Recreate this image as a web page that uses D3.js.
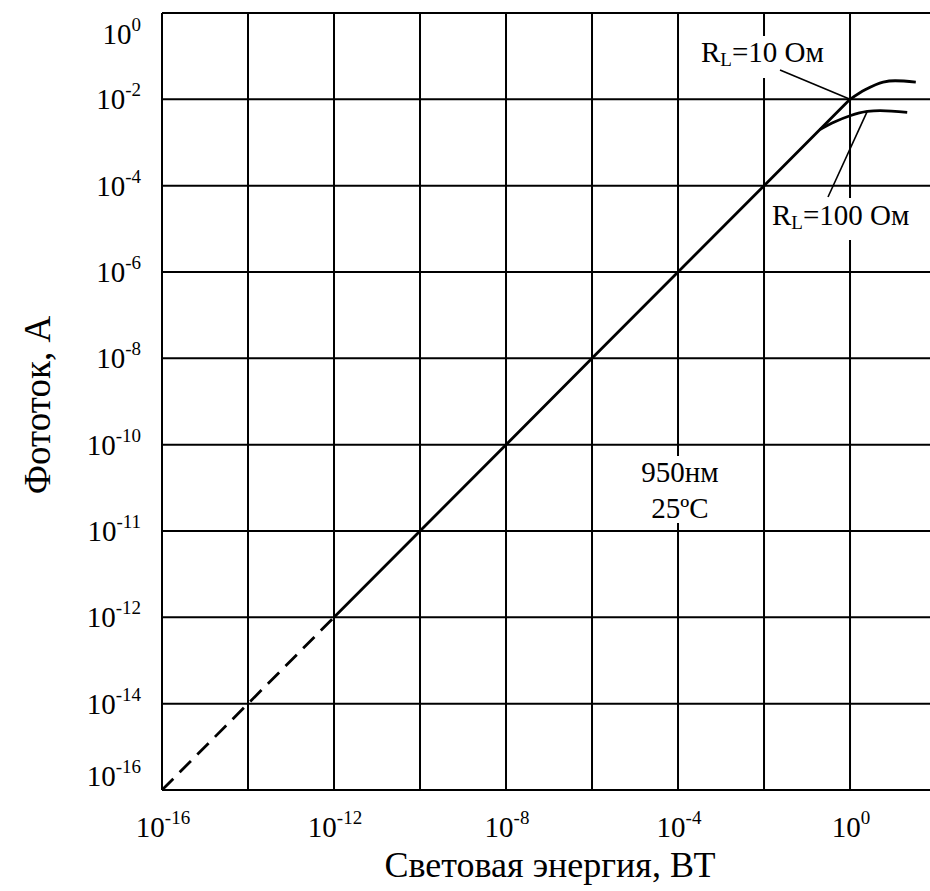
<!DOCTYPE html>
<html>
<head>
<meta charset="utf-8">
<script src="https://cdn.jsdelivr.net/npm/d3@7/dist/d3.min.js"></script>
<style>
  html, body { margin: 0; padding: 0; background: #fff; }
  svg { display: block; }
  text { font-family: "Liberation Serif", "Times New Roman", serif; fill: #000; }
</style>
</head>
<body>
<svg id="chart" width="930" height="891"></svg>
<script>
// ---- data ----
// x: exponent of light energy (W), y: position index of current tick labels (bottom = 0)
const xTickExp = [-16, -12, -8, -4, 0];
const xGridExp = [-16, -14, -12, -10, -8, -6, -4, -2, 0];
const yTickLabels = ["-16", "-14", "-12", "-11", "-10", "-8", "-6", "-4", "-2", "0"];

const mainX = [-16, -14, -12, -10, -8, -6, -4, -2, 0];
const mainY = [0, 1, 2, 3, 4, 5, 6, 7, 8];
const dashedCount = 3; // first points drawn dashed

const rl10X = [0, 0.35, 0.77, 1.05, 1.53];
const rl10Y = [8.0, 8.11, 8.20, 8.215, 8.20];

const rl100X = [-0.70, -0.35, 0, 0.40, 0.70, 1.33];
const rl100Y = [7.65, 7.74, 7.81, 7.86, 7.87, 7.85];

const xTitle = "Световая энергия, ВТ";
const yTitle = "Фототок, А";

// ---- layout ----
const svg = d3.select("#chart");
const pL = 162, pT = 13, pB = 790, pR = 930;
const x = d3.scaleLinear().domain([-16, 1.86]).range([pL, pR]);
const y = d3.scaleLinear().domain([0, 9]).range([pB, pT]);
const FS = 29, SUP = 19;

const g = svg.append("g");

// grid
g.selectAll("line.vg").data(xGridExp).join("line")
  .attr("x1", d => x(d)).attr("x2", d => x(d))
  .attr("y1", pT).attr("y2", pB)
  .attr("stroke", "#000").attr("stroke-width", 2);
g.selectAll("line.hg").data(d3.range(yTickLabels.length)).join("line")
  .attr("x1", pL).attr("x2", pR)
  .attr("y1", d => y(d)).attr("y2", d => y(d))
  .attr("stroke", "#000").attr("stroke-width", 2);

// y tick labels
const nY = yTickLabels.length;
const yl = svg.append("g").selectAll("text").data(yTickLabels).join("text")
  .attr("x", 141)
  .attr("y", (d, i) => y(i) + 10 + (i === 0 ? -14 : 0) + (i === nY - 1 ? 21 : 0))
  .attr("text-anchor", "end").attr("font-size", FS);
yl.append("tspan").text("10");
yl.append("tspan").attr("dy", -13).attr("font-size", SUP).text(d => d);

// x tick labels
const xl = svg.append("g").selectAll("text").data(xTickExp).join("text")
  .attr("x", d => x(d) + 1).attr("y", 837)
  .attr("text-anchor", "middle").attr("font-size", FS);
xl.append("tspan").text("10");
xl.append("tspan").attr("dy", -13).attr("font-size", SUP).text(d => String(d));

// titles
svg.append("text").attr("x", 550).attr("y", 877).attr("text-anchor", "middle")
  .attr("font-size", 36).text(xTitle);
svg.append("text").attr("transform", "translate(50,405) rotate(-90)")
  .attr("text-anchor", "middle").attr("font-size", 37).text(yTitle);

// curves
const line = d3.line().x(d => x(d[0])).y(d => y(d[1]));
const curve = d3.line().x(d => x(d[0])).y(d => y(d[1])).curve(d3.curveMonotoneX);
const mainPts = mainX.map((v, i) => [v, mainY[i]]);
g.append("path").attr("d", line(mainPts.slice(0, dashedCount)))
  .attr("fill", "none").attr("stroke", "#000").attr("stroke-width", 2.8)
  .attr("stroke-dasharray", "16,9");
g.append("path").attr("d", line(mainPts.slice(dashedCount - 1)))
  .attr("fill", "none").attr("stroke", "#000").attr("stroke-width", 2.8);
g.append("path").attr("d", curve(rl10X.map((v, i) => [v, rl10Y[i]])))
  .attr("fill", "none").attr("stroke", "#000").attr("stroke-width", 2.8);
g.append("path").attr("d", curve(rl100X.map((v, i) => [v, rl100Y[i]])))
  .attr("fill", "none").attr("stroke", "#000").attr("stroke-width", 2.8);

// annotations with white background
function label(parts, xPos, yBase, box) {
  svg.append("rect").attr("x", box[0]).attr("y", box[1]).attr("width", box[2]).attr("height", box[3]).attr("fill", "#fff");
  const t = svg.append("text").attr("x", xPos).attr("y", yBase).attr("font-size", FS);
  parts.forEach(p => {
    const s = t.append("tspan").text(p.t);
    if (p.sub) s.attr("font-size", SUP).attr("dy", 4);
    if (p.back) s.attr("dy", -4);
  });
  return t;
}
label([{t: "R"}, {t: "L", sub: true}, {t: "=10 Ом", back: true}], 701, 62, [697, 36, 130, 42]);
label([{t: "R"}, {t: "L", sub: true}, {t: "=100 Ом", back: true}], 772, 225, [768, 198, 150, 42]);

// leader lines
svg.append("line").attr("x1", 780).attr("y1", 70).attr("x2", x(0)).attr("y2", y(8))
  .attr("stroke", "#000").attr("stroke-width", 1.6);
svg.append("line").attr("x1", 828).attr("y1", 197).attr("x2", x(0.40)).attr("y2", y(7.86))
  .attr("stroke", "#000").attr("stroke-width", 1.6);

// condition text
svg.append("rect").attr("x", 638).attr("y", 456).attr("width", 84).attr("height", 67).attr("fill", "#fff");
svg.append("text").attr("x", 680).attr("y", 482).attr("text-anchor", "middle").attr("font-size", FS).text("950нм");
svg.append("text").attr("x", 680).attr("y", 518).attr("text-anchor", "middle").attr("font-size", FS).text("25ºC");
</script>
</body>
</html>
